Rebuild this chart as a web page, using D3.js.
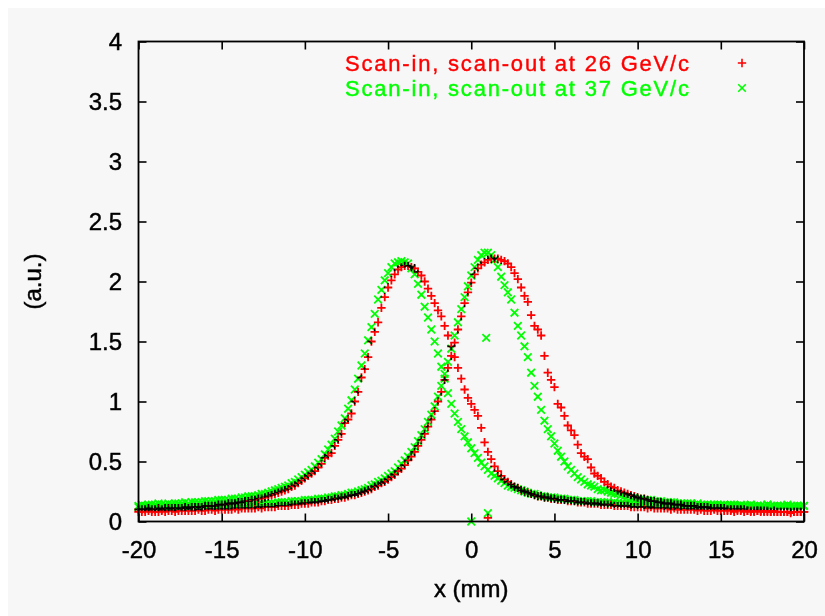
<!DOCTYPE html>
<html><head><meta charset="utf-8">
<script src="https://cdn.jsdelivr.net/npm/d3@7"></script>
<style>
body{margin:0;background:#fff}
svg{display:block}
text{font-family:"Liberation Sans",Arial,Helvetica,sans-serif}
</style>
</head><body>
<svg id="chart" width="825" height="616"></svg>
<script>
// ---- data ----
const xTicks = [-20, -15, -10, -5, 0, 5, 10, 15, 20];
const yTicks = [0, 0.5, 1, 1.5, 2, 2.5, 3, 3.5, 4];
const legendLabels = ["Scan-in, scan-out at 26 GeV/c", "Scan-in, scan-out at 37 GeV/c"];
const xAxisLabel = "x (mm)";
const yAxisLabel = "(a.u.)";
// positions sampled every 0.2 mm from -20 to 20
const xStart = -20, xStep = 0.2;

// 26 GeV/c (red) - left peak
const red26Left = [
0.10,0.10,0.10,0.11,0.10,0.10,0.11,0.10,0.11,0.11,
0.11,0.11,0.11,0.11,0.12,0.11,0.12,0.12,0.12,0.12,
0.13,0.13,0.13,0.13,0.14,0.14,0.14,0.15,0.15,0.15,
0.16,0.16,0.17,0.17,0.18,0.18,0.19,0.19,0.20,0.21,
0.22,0.23,0.24,0.25,0.26,0.27,0.29,0.30,0.32,0.34,
0.36,0.38,0.40,0.42,0.45,0.48,0.53,0.55,0.57,0.63,
0.68,0.73,0.82,0.85,0.90,1.00,1.08,1.20,1.27,1.37,
1.50,1.58,1.66,1.78,1.87,1.95,2.01,2.06,2.10,2.12,
2.13,2.13,2.12,2.11,2.08,2.05,2.00,1.94,1.88,1.82,
1.76,1.71,1.63,1.55,1.46,1.37,1.28,1.19,1.10,1.03,
0.98,0.93,0.88,0.78,0.66,0.58,0.52,0.46,0.42,0.38,
0.35,0.33,0.31,0.29,0.28,0.26,0.25,0.24,0.23,0.22,
0.21,0.21,0.20,0.20,0.19,0.19,0.18,0.18,0.18,0.17,
0.17,0.17,0.16,0.16,0.16,0.15,0.15,0.15,0.15,0.14,
0.14,0.14,0.14,0.13,0.13,0.13,0.13,0.13,0.12,0.12,
0.12,0.12,0.12,0.11,0.12,0.11,0.11,0.11,0.11,0.11,
0.10,0.11,0.10,0.10,0.10,0.10,0.10,0.10,0.09,0.10,
0.09,0.09,0.09,0.10,0.09,0.09,0.09,0.09,0.09,0.08,
0.09,0.09,0.08,0.09,0.08,0.08,0.09,0.08,0.08,0.08,
0.08,0.08,0.08,0.08,0.08,0.08,0.07,0.08,0.08,0.08,
0.08];
// 26 GeV/c (red) - right peak
const red26Right = [
0.08,0.08,0.08,0.09,0.08,0.08,0.08,0.09,0.08,0.09,
0.09,0.08,0.09,0.09,0.09,0.09,0.09,0.09,0.10,0.09,
0.09,0.10,0.10,0.09,0.10,0.10,0.10,0.10,0.10,0.11,
0.10,0.11,0.11,0.11,0.11,0.11,0.12,0.11,0.12,0.12,
0.12,0.12,0.13,0.13,0.13,0.13,0.14,0.14,0.14,0.15,
0.15,0.15,0.16,0.16,0.16,0.17,0.17,0.18,0.18,0.19,
0.19,0.20,0.20,0.21,0.22,0.22,0.23,0.24,0.25,0.26,
0.27,0.29,0.30,0.32,0.33,0.35,0.37,0.39,0.42,0.44,
0.47,0.51,0.54,0.58,0.63,0.68,0.73,0.79,0.85,0.92,
1.00,1.08,1.18,1.28,1.38,1.49,1.60,1.71,1.82,1.91,
1.99,2.06,2.11,2.14,2.16,2.18,2.19,2.19,2.19,2.18,
2.17,2.15,2.12,2.07,2.02,1.95,1.88,1.83,1.72,1.63,
1.60,1.55,1.38,1.24,1.18,1.12,0.98,0.95,0.88,0.80,
0.76,0.72,0.64,0.57,0.54,0.52,0.45,0.40,0.38,0.36,
0.33,0.31,0.29,0.28,0.26,0.25,0.24,0.23,0.22,0.21,
0.20,0.19,0.19,0.18,0.17,0.17,0.16,0.16,0.15,0.15,
0.15,0.14,0.14,0.14,0.13,0.13,0.13,0.13,0.12,0.12,
0.12,0.12,0.11,0.11,0.11,0.11,0.11,0.10,0.10,0.10,
0.10,0.10,0.10,0.09,0.09,0.09,0.09,0.09,0.09,0.09,
0.08,0.09,0.08,0.08,0.08,0.08,0.08,0.08,0.08,0.08,
0.08];
// 37 GeV/c (green) - left peak
const green37Left = [
0.13,0.14,0.13,0.14,0.14,0.14,0.15,0.14,0.14,0.15,
0.14,0.15,0.15,0.15,0.16,0.15,0.16,0.16,0.16,0.16,
0.17,0.17,0.17,0.17,0.18,0.18,0.18,0.18,0.19,0.19,
0.19,0.20,0.20,0.21,0.21,0.21,0.22,0.23,0.23,0.24,
0.25,0.26,0.27,0.28,0.29,0.30,0.32,0.33,0.35,0.37,
0.39,0.41,0.43,0.46,0.49,0.52,0.56,0.60,0.64,0.69,
0.75,0.80,0.86,0.94,1.01,1.10,1.19,1.30,1.40,1.51,
1.62,1.73,1.85,1.93,2.01,2.07,2.12,2.15,2.16,2.17,
2.16,2.15,2.11,2.06,1.98,1.89,1.79,1.70,1.60,1.50,
1.40,1.29,1.19,1.07,0.98,0.90,0.83,0.77,0.71,0.66,
0.61,0.57,0.53,0.49,0.46,0.43,0.40,0.38,0.36,0.34,
0.32,0.30,0.29,0.28,0.27,0.26,0.25,0.24,0.23,0.23,
0.22,0.21,0.21,0.20,0.20,0.20,0.19,0.19,0.19,0.18,
0.18,0.18,0.17,0.17,0.17,0.17,0.17,0.16,0.16,0.16,
0.16,0.16,0.15,0.16,0.15,0.15,0.15,0.15,0.15,0.14,
0.15,0.14,0.15,0.14,0.14,0.14,0.14,0.14,0.14,0.13,
0.14,0.14,0.13,0.14,0.13,0.14,0.13,0.13,0.14,0.13,
0.13,0.13,0.13,0.14,0.13,0.13,0.13,0.13,0.14,0.13,
0.13,0.13,0.13,0.13,0.14,0.13,0.13,0.13,0.13,0.14,
0.13,0.13,0.13,0.13,0.13,0.14,0.13,0.13,0.13,0.13,
0.13];
// 37 GeV/c (green) - right peak
const green37Right = [
0.12,0.12,0.13,0.12,0.12,0.13,0.12,0.12,0.13,0.12,
0.12,0.13,0.12,0.13,0.13,0.12,0.13,0.13,0.12,0.13,
0.13,0.13,0.13,0.13,0.13,0.14,0.13,0.13,0.14,0.14,
0.14,0.14,0.14,0.14,0.14,0.15,0.14,0.15,0.15,0.15,
0.15,0.15,0.16,0.16,0.16,0.16,0.17,0.17,0.17,0.17,
0.18,0.18,0.18,0.18,0.19,0.19,0.19,0.20,0.20,0.21,
0.21,0.22,0.22,0.23,0.24,0.24,0.25,0.26,0.27,0.28,
0.30,0.31,0.33,0.34,0.36,0.38,0.40,0.42,0.45,0.48,
0.51,0.54,0.58,0.62,0.67,0.72,0.77,0.83,0.89,0.96,
1.04,1.13,1.23,1.33,1.44,1.55,1.66,1.77,1.87,1.96,
2.05,2.12,2.18,2.22,2.24,2.24,2.22,2.18,2.12,2.04,
1.97,1.91,1.85,1.74,1.63,1.55,1.46,1.37,1.24,1.13,
1.04,0.93,0.84,0.77,0.71,0.65,0.59,0.54,0.50,0.46,
0.43,0.40,0.37,0.35,0.33,0.31,0.30,0.29,0.27,0.26,
0.26,0.25,0.24,0.23,0.23,0.22,0.21,0.21,0.20,0.20,
0.19,0.19,0.18,0.18,0.18,0.17,0.17,0.17,0.16,0.16,
0.16,0.16,0.15,0.15,0.15,0.15,0.15,0.14,0.15,0.14,
0.14,0.14,0.14,0.14,0.14,0.14,0.14,0.13,0.14,0.14,
0.13,0.14,0.13,0.13,0.14,0.13,0.13,0.13,0.13,0.14,
0.13,0.13,0.13,0.13,0.13,0.13,0.13,0.12,0.13,0.13,
0.13];
// isolated readings
const red26StrayX = [1.0];
const red26StrayY = [0.03];
const green37StrayX = [0.0, 1.0, 0.9];
const green37StrayY = [0.0, 0.07, 1.53];

// ---- chart ----
const W = 825, H = 616;
const plot = {left: 138.5, right: 804, top: 41.5, bottom: 521.5};
const svg = d3.select("#chart");

svg.append("rect").attr("x", 0).attr("y", 0).attr("width", W).attr("height", H).attr("fill", "#ffffff");
svg.append("rect").attr("x", 8).attr("y", 8).attr("width", W - 8).attr("height", H - 8).attr("fill", "#f7f7f7");

const x = d3.scaleLinear().domain([xTicks[0], xTicks[xTicks.length - 1]]).range([plot.left, plot.right]);
const y = d3.scaleLinear().domain([yTicks[0], yTicks[yTicks.length - 1]]).range([plot.bottom, plot.top]);

function toPoints(vals) {
  return vals.map((v, i) => ({x: +(xStart + i * xStep).toFixed(2), y: v}));
}
function strays(xs, ys) { return xs.map((v, i) => ({x: v, y: ys[i]})); }

const redPts = toPoints(red26Left).concat(toPoints(red26Right), strays(red26StrayX, red26StrayY));
const greenPts = toPoints(green37Left).concat(toPoints(green37Right), strays(green37StrayX, green37StrayY));

const plusPath = "M-4.2,0H4.2M0,-4.2V4.2";
const timesPath = "M-3.8,-3.8L3.8,3.8M-3.8,3.8L3.8,-3.8";

const marks = svg.append("g").style("isolation", "isolate");
marks.append("g").selectAll("path").data(redPts).join("path")
  .attr("d", plusPath)
  .attr("transform", d => `translate(${x(d.x)},${y(d.y)})`)
  .attr("stroke", "#ff0000").attr("stroke-width", 1.8).attr("fill", "none")
  .style("mix-blend-mode", "multiply");
marks.append("g").selectAll("path").data(greenPts).join("path")
  .attr("d", timesPath)
  .attr("transform", d => `translate(${x(d.x)},${y(d.y)})`)
  .attr("stroke", "#00ff00").attr("stroke-width", 1.8).attr("fill", "none")
  .style("mix-blend-mode", "multiply");

// axes (inward ticks on all four sides)
const fontSize = 24;
const textStroke = 0.45;
const gx = svg.append("g").attr("transform", `translate(0,${plot.bottom})`)
  .call(d3.axisBottom(x).tickValues(xTicks).tickSizeInner(-8).tickSizeOuter(0).tickPadding(19).tickFormat(d => String(d)));
const gy = svg.append("g").attr("transform", `translate(${plot.left},0)`)
  .call(d3.axisLeft(y).tickValues(yTicks).tickSizeInner(-8).tickSizeOuter(0).tickPadding(16.5).tickFormat(d => String(d)));
const gt = svg.append("g").attr("transform", `translate(0,${plot.top})`)
  .call(d3.axisTop(x).tickValues(xTicks).tickSizeInner(-8).tickSizeOuter(0).tickFormat(""));
const gr = svg.append("g").attr("transform", `translate(${plot.right},0)`)
  .call(d3.axisRight(y).tickValues(yTicks).tickSizeInner(-8).tickSizeOuter(0).tickFormat(""));
[gx, gy, gt, gr].forEach(g => {
  g.select(".domain").remove();
  g.selectAll(".tick line").attr("stroke", "#000").attr("stroke-width", 1.6);
  g.selectAll(".tick text").attr("fill", "#000").attr("stroke", "#000").attr("stroke-width", textStroke)
    .style("font-size", fontSize + "px")
    .style("font-family", '"Liberation Sans", Arial, sans-serif');
});
svg.append("rect")
  .attr("x", plot.left).attr("y", plot.top)
  .attr("width", plot.right - plot.left).attr("height", plot.bottom - plot.top)
  .attr("fill", "none").attr("stroke", "#000").attr("stroke-width", 1.8);

// axis titles
svg.append("text").attr("x", (plot.left + plot.right) / 2).attr("y", 597)
  .attr("text-anchor", "middle").style("font-size", fontSize + "px")
  .attr("fill", "#000").attr("stroke", "#000").attr("stroke-width", textStroke).text(xAxisLabel);
svg.append("text").attr("transform", `translate(41,${(plot.top + plot.bottom) / 2}) rotate(-90)`)
  .attr("text-anchor", "middle").style("font-size", fontSize + "px")
  .attr("fill", "#000").attr("stroke", "#000").attr("stroke-width", textStroke).text(yAxisLabel);

// legend
const legendColors = ["#ff0000", "#00ff00"];
const legendPaths = [plusPath, timesPath];
const legendFont = 22;
legendLabels.forEach((lab, i) => {
  const ly = 63 + i * 25;
  svg.append("text").attr("x", 689).attr("y", ly).attr("dy", "0.35em")
    .attr("text-anchor", "end").style("font-size", legendFont + "px")
    .attr("textLength", 344).attr("lengthAdjust", "spacing")
    .attr("fill", legendColors[i]).attr("stroke", legendColors[i]).attr("stroke-width", 0.4).text(lab);
  svg.append("path").attr("d", legendPaths[i]).attr("transform", `translate(742,${ly})`)
    .attr("stroke", legendColors[i]).attr("stroke-width", 1.6).attr("fill", "none");
});
</script>
</body></html>
